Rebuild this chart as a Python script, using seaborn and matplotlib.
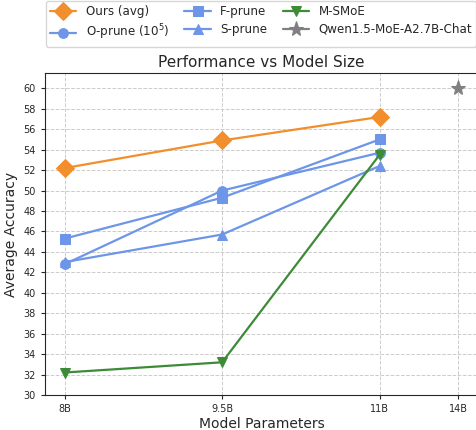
import pandas as pd
import matplotlib.pyplot as plt
import seaborn as sns

# Model sizes (x position, tick label)
x_pos = [8, 9.5, 11]
x_ticks = [8, 9.5, 11, 11.75]
x_labels = ['8B', '9.5B', '11B', '14B']

ours = [52.2, 54.9, 57.2]
o_prune = [42.8, 50.0, 53.7]
f_prune = [45.3, 49.3, 55.0]
s_prune = [43.0, 45.7, 52.4]
m_smoe = [32.2, 33.2, 53.5]
qwen_x = [11.75]
qwen = [60.0]

sns.set_style("ticks")

series = [
    ('Ours (avg)', x_pos, ours, '#f28e2b', 'D', 9),
    ('O-prune ($10^5$)', x_pos, o_prune, '#6d96e8', 'o', 7),
    ('F-prune', x_pos, f_prune, '#6d96e8', 's', 7),
    ('S-prune', x_pos, s_prune, '#6d96e8', '^', 7),
    ('M-SMoE', x_pos, m_smoe, '#3d8b37', 'v', 7),
    ('Qwen1.5-MoE-A2.7B-Chat', qwen_x, qwen, 'gray', '*', 11),
]

fig = plt.figure(figsize=(4.76, 4.30), dpi=100)
ax = fig.add_axes([45 / 476, 35 / 430, 433 / 476, 322 / 430])

for name, xs, ys, color, marker, ms in series:
    df = pd.DataFrame({'x': xs, 'y': ys})
    sns.lineplot(data=df, x='x', y='y', ax=ax, color=color, marker=marker,
                 markersize=ms, markeredgecolor=color, linewidth=1.6, label=name)

ax.set_xticks(x_ticks)
ax.set_xticklabels(x_labels, fontsize=7)
ax.set_yticks(range(30, 61, 2))
ax.tick_params(axis='both', labelsize=7, length=3)
ax.set_xlim(7.8125, 11.9375)
ax.set_ylim(30, 61.5)
ax.grid(True, linestyle='--', color='#cccccc', linewidth=0.7)
ax.set_title('Performance vs Model Size', fontsize=11, pad=4)
ax.set_xlabel('Model Parameters', fontsize=10, labelpad=2)
ax.set_ylabel('Average Accuracy', fontsize=10)
ax.legend(ncol=3, loc='upper center', bbox_to_anchor=(261 / 476, 0.998),
          bbox_transform=fig.transFigure,
          fontsize=8.6, frameon=True, handlelength=2.2, columnspacing=1.3,
          borderaxespad=0, handletextpad=0.8, labelspacing=0.4,
          borderpad=0.35)

fig.savefig('out.png', dpi=100)
